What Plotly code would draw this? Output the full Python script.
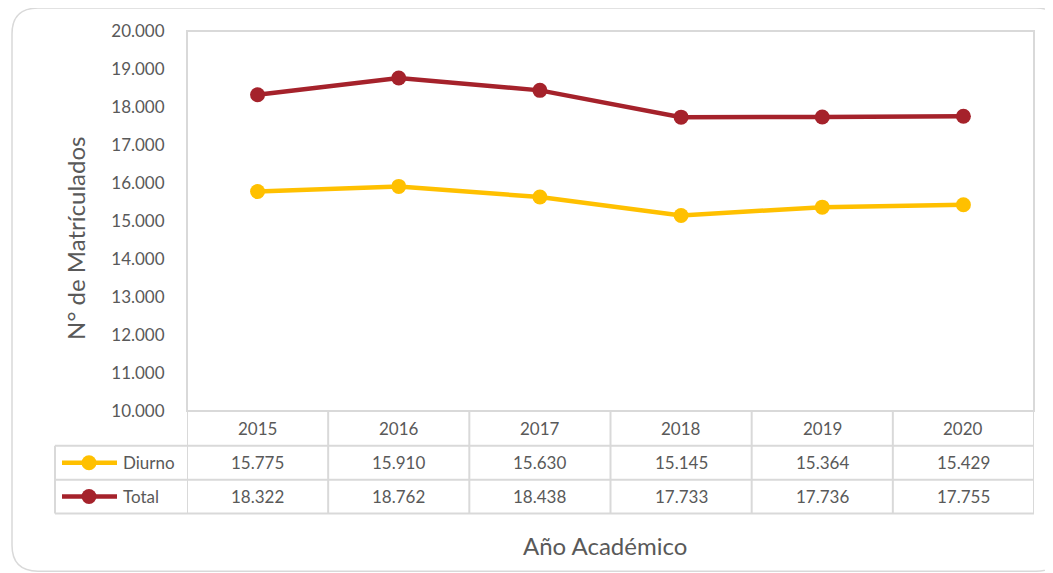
import plotly.graph_objects as go

# ============================================================
# Data
# ============================================================

years = ["2015", "2016", "2017", "2018", "2019", "2020"]
diurno = [15775, 15910, 15630, 15145, 15364, 15429]
total = [18322, 18762, 18438, 17733, 17736, 17755]

series_names = ["Diurno", "Total"]
series_colors = ["#FFC000", "#A5222B"]

# ============================================================
# Layout geometry (pixels of the window; the page body adds 8px)
# ============================================================

OFF = 8
W, H = 1053 - OFF, 573 - OFF
L, R, T, B = 187 - OFF, 1034 - OFF, 29 - OFF, 411 - OFF
GRID = "#D9D9D9"
TXT = "#595959"
FONT = "Lato"


def px_x(p):
    return (p - OFF - L) / (R - L)


def px_y(p):
    return (B - (p - OFF)) / (B - T)


row_top = [411, 446, 480]
row_bot = [446, 480, 514]

fig = go.Figure()

for name, vals, col in zip(series_names, [diurno, total], series_colors):
    fig.add_trace(
        go.Scatter(
            x=years,
            y=vals,
            name=name,
            mode="lines+markers",
            line=dict(color=col, width=4.5),
            marker=dict(color=col, size=15),
            showlegend=False,
        )
    )

shapes = []
annotations = []


def label(x, y, text, xref="paper", size=17, **kw):
    d = dict(x=x, y=y, xref=xref, yref="paper", text=text, showarrow=False,
             xanchor="center", yanchor="middle",
             font=dict(size=size, color=TXT, family=FONT))
    d.update(kw)
    annotations.append(d)


# outer rounded frame
x0, y0, x1, y1, r = px_x(12), px_y(6), px_x(1062), px_y(572), 26
rx = r / (R - L)
ry = r / (B - T)
shapes.append(
    dict(
        type="path",
        xref="paper",
        yref="paper",
        path=(
            f"M {x0 + rx},{y0} L {x1 - rx},{y0} Q {x1},{y0} {x1},{y0 - ry} "
            f"L {x1},{y1 + ry} Q {x1},{y1} {x1 - rx},{y1} L {x0 + rx},{y1} "
            f"Q {x0},{y1} {x0},{y1 + ry} L {x0},{y0 - ry} Q {x0},{y0} {x0 + rx},{y0} Z"
        ),
        line=dict(color=GRID, width=1.5),
        layer="below",
    )
)

line_style = dict(color=GRID, width=2)

# plot area border
shapes.append(dict(type="rect", xref="paper", yref="paper", x0=0, x1=1, y0=0, y1=1, line=line_style))

# table horizontal lines
for yy in [446, 480, 514]:
    shapes.append(
        dict(type="line", xref="paper", yref="paper", x0=px_x(55), x1=1, y0=px_y(yy), y1=px_y(yy), line=line_style)
    )

# table vertical lines
for i in range(len(years) + 1):
    shapes.append(
        dict(type="line", xref="x", yref="paper", x0=i - 0.5, x1=i - 0.5, y0=px_y(411), y1=px_y(514), line=line_style)
    )
shapes.append(
    dict(type="line", xref="paper", yref="paper", x0=px_x(55), x1=px_x(55), y0=px_y(446), y1=px_y(514), line=line_style)
)

# header row
for i, yr in enumerate(years):
    label(i, px_y((row_top[0] + row_bot[0]) / 2), yr, xref="x")

# data rows with legend keys
for k, (name, vals, col) in enumerate(zip(series_names, [diurno, total], series_colors)):
    yc = px_y((row_top[k + 1] + row_bot[k + 1]) / 2)
    for i, v in enumerate(vals):
        label(i, yc, f"{v:,}".replace(",", "."), xref="x")
    shapes.append(
        dict(type="line", xref="paper", yref="paper", x0=px_x(62), x1=px_x(117), y0=yc, y1=yc,
             line=dict(color=col, width=4.5))
    )
    shapes.append(
        dict(type="circle", xref="paper", yref="paper", xsizemode="pixel", ysizemode="pixel",
             xanchor=px_x(89), yanchor=yc, x0=-7.5, x1=7.5, y0=-7.5, y1=7.5,
             fillcolor=col, line=dict(color=col, width=0))
    )
    label(px_x(121), yc, name, xanchor="left")

# axis titles
label(px_x(605), px_y(546), "Año Académico", size=24)
label(px_x(76), px_y(238), "N° de Matrículados", size=24, textangle=-90)

fig.update_layout(
    width=W,
    height=H,
    margin=dict(l=L, r=W - R, t=T, b=H - B),
    paper_bgcolor="white",
    plot_bgcolor="white",
    separators=",.",
    shapes=shapes,
    annotations=annotations,
    font=dict(family=FONT, color=TXT, size=17),
)

fig.update_xaxes(
    type="category",
    range=[-0.5, 5.5],
    showticklabels=False,
    showgrid=False,
    zeroline=False,
    showline=False,
)

fig.update_yaxes(
    range=[10000, 20000],
    dtick=1000,
    tickformat=",d",
    showgrid=False,
    zeroline=False,
    showline=False,
    ticks="outside",
    ticklen=0,
    ticklabelstandoff=18,
    tickfont=dict(size=17, color=TXT, family=FONT),
)

fig.write_html("out.html")
